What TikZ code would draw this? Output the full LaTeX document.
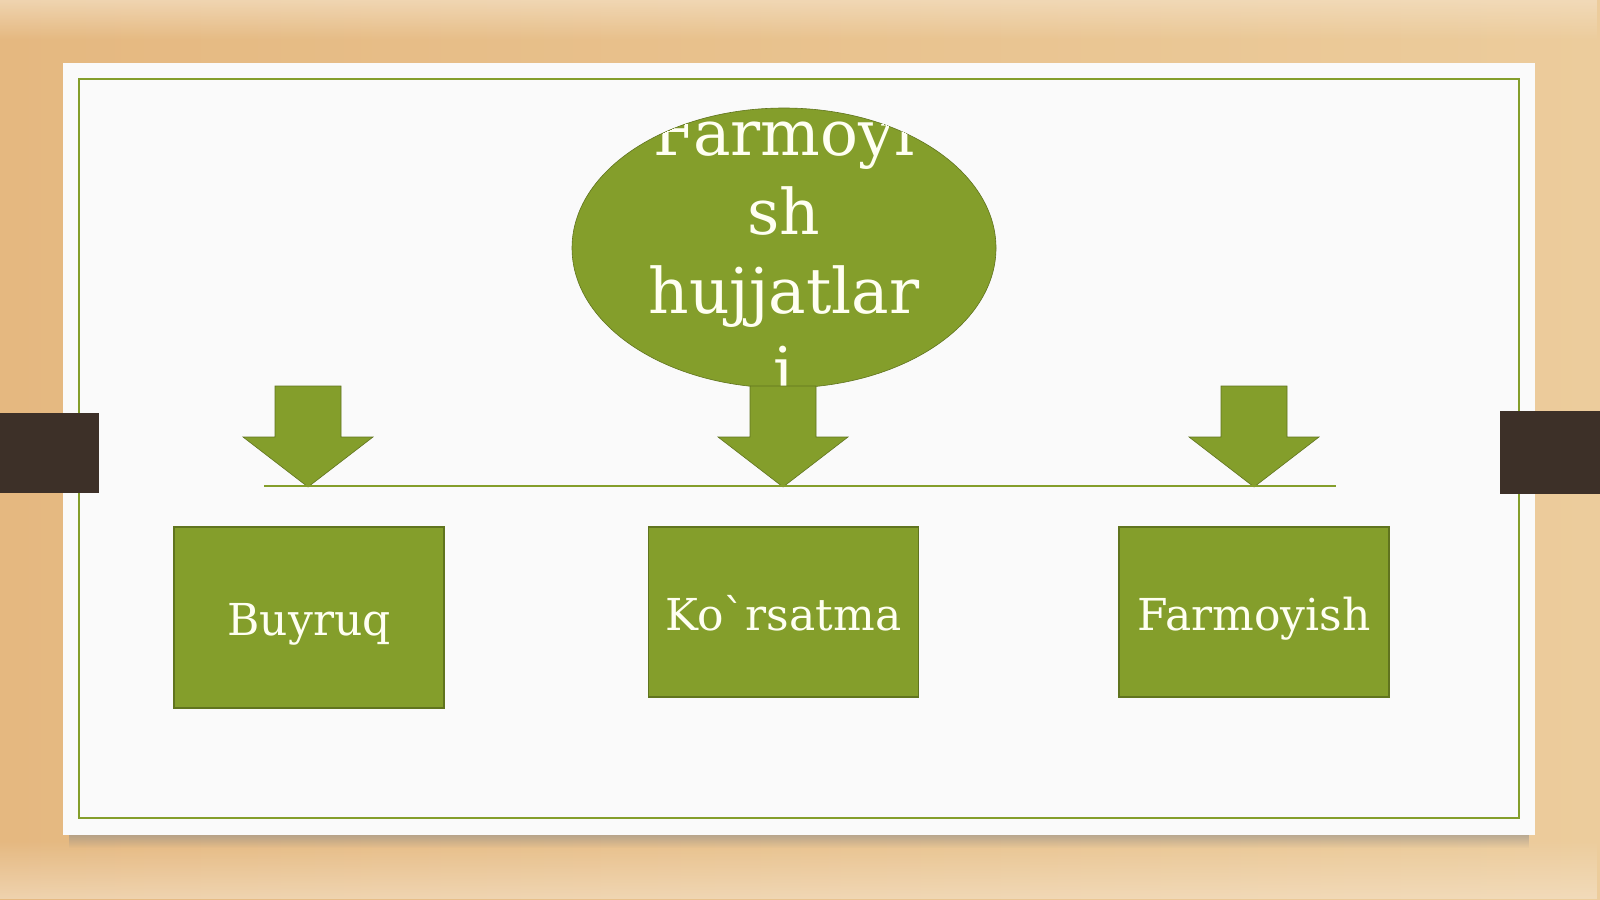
\documentclass[tikz,border=0pt]{standalone}
\usepackage{xcolor}
\usepackage{fontspec}
\setmainfont{DejaVu Serif}
\usepackage{tikz}
\usetikzlibrary{shapes.geometric,fadings}

\definecolor{leafgreen}{RGB}{132,158,43}
\definecolor{leafdark}{RGB}{96,116,30}
\definecolor{woodlight}{RGB}{236,204,156}
\definecolor{wooddark}{RGB}{229,184,128}
\definecolor{tabbrown}{RGB}{61,48,40}
\definecolor{cream}{RGB}{255,255,242}

\tikzset{
    docbox/.style={draw=leafdark, fill=leafgreen, line width=1.2pt, text=cream,
        font=\fontsize{44}{52}\selectfont, minimum width=270pt, inner sep=0pt,
        text height=40pt, text depth=4pt},
    blockarrow/.style={fill=leafgreen, draw=leafdark, line width=0.6pt}
}

\begin{document}
\begin{tikzpicture}[x=1pt,y=-1pt]
    \useasboundingbox (0,0) rectangle (1600,899);
    % Draw the wood and the card
    \shade[left color=wooddark, right color=woodlight] (0,0) rectangle (1600,899);
    \fill[woodlight!60!white, path fading=south, opacity=0.7] (0,0) rectangle (1600,40);
    \fill[woodlight!50!white, path fading=north, opacity=0.6] (0,840) rectangle (1600,899);
    \fill[black!45, path fading=south, opacity=0.6] (70,833) rectangle (1533,848);
    \fill[white!98!black] (63,63) rectangle (1535,835);
    \draw[leafgreen, line width=1.5pt] (79,79) rectangle (1519,818);
    \fill[tabbrown] (0,413) rectangle (99,493);
    \fill[tabbrown] (1500,411) rectangle (1600,494);

    % Draw the ellipse and its text
    \node[ellipse, fill=leafgreen, draw=leafdark, line width=0.6pt,
        minimum width=424pt, minimum height=280pt, inner sep=0pt] (top) at (784,248) {};
    \begin{scope}
        \clip (784,248) ellipse [x radius=212, y radius=140];
        \foreach \word/\y in {Farmoyi/155, sh/234, hujjatlar/313, i/392} {
            \node[anchor=base, text=cream, font=\fontsize{63}{79}\selectfont] (w\y) at (784,\y) {\word};
        }
    \end{scope}

    % Draw the arrows and the line
    \foreach \x in {308,783,1254} {
        \draw[blockarrow] (\x-33,386) -- (\x+33,386) -- (\x+33,437) -- (\x+65,437)
            -- (\x,487) -- (\x-65,437) -- (\x-33,437) -- cycle;
    }
    \coordinate (lineA) at (264,486);
    \coordinate (lineB) at (1336,486);
    \draw[leafgreen, line width=1.5pt] (lineA) -- (lineB);

    % Draw the boxes
    \node[docbox, minimum height=181pt] (buyruq) at (309,617.5) {Buyruq};
    \node[docbox, minimum height=170pt] (korsatma) at (783.5,612) {Ko\textasciigrave rsatma};
    \node[docbox, minimum height=170pt] (farmoyish) at (1254,612) {Farmoyish};
\end{tikzpicture}
\end{document}
